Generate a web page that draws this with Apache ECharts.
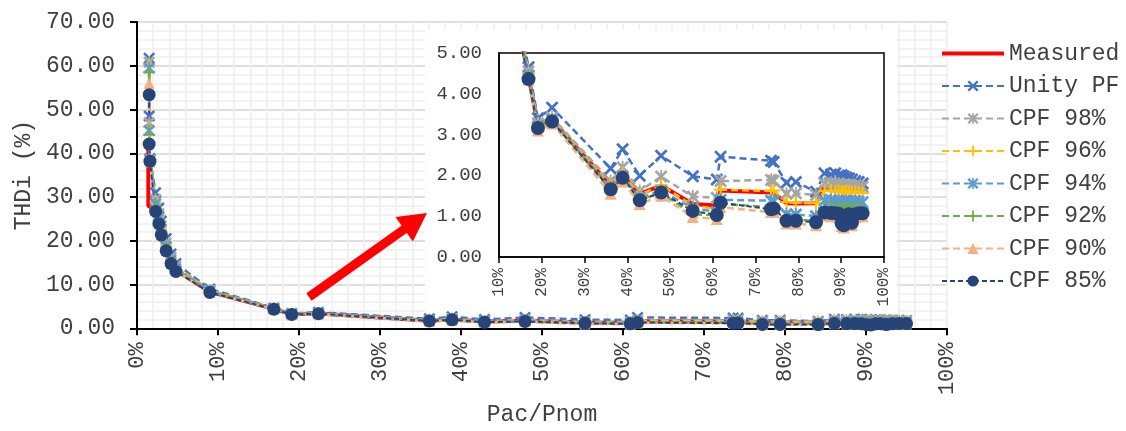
<!DOCTYPE html>
<html>
<head>
<meta charset="utf-8">
<script src="https://cdn.jsdelivr.net/npm/echarts@6.0.0/dist/echarts.min.js"></script>
<style>
  html, body { margin: 0; padding: 0; background: #fff; }
  #chart { width: 1126px; height: 431px; }
</style>
</head>
<body>
<div id="chart"></div>
<script>
// ---------- data (Pac/Pnom in %, THDi in %) ----------
const seriesNames = ['Measured', 'Unity PF', 'CPF 98%', 'CPF 96%', 'CPF 94%', 'CPF 92%', 'CPF 90%', 'CPF 85%'];

const measuredPac = [1.4, 1.4, 2.3, 2.7, 3.0, 3.6, 4.2, 4.8, 9.0, 16.9, 19.1, 22.4, 36.1, 38.9, 42.9, 47.9, 55.3, 60.9, 61.8, 73.6, 74.2, 77.2, 79.4, 84.1, 86.1, 87.6, 88.6, 89.4, 90.1, 90.6, 91.2, 91.8, 92.5, 93.3, 94.1, 95.0];
const measured    = [41.0, 28.0, 27.0, 24.2, 21.6, 18.0, 15.1, 13.3, 8.35, 4.45, 3.20, 3.36, 1.75, 2.00, 1.55, 1.75, 1.30, 1.26, 1.63, 1.58, 1.57, 1.32, 1.31, 1.32, 1.72, 1.65, 1.62, 1.63, 1.62, 1.60, 1.63, 1.62, 1.60, 1.62, 1.60, 1.60];

const pac      = [1.5, 1.5, 1.6, 2.3, 2.7, 3.0, 3.6, 4.2, 4.8, 9.0, 16.9, 19.1, 22.4, 36.1, 38.9, 42.9, 47.9, 55.3, 60.9, 61.8, 73.6, 74.2, 77.2, 79.4, 84.1, 86.1, 87.6, 88.6, 89.4, 90.1, 90.6, 91.2, 91.8, 92.5, 93.3, 94.1, 95.0];
const unityPF  = [61.7, 48.5, 38.8, 31.0, 27.5, 24.5, 20.5, 17.0, 14.8, 9.0, 4.65, 3.40, 3.66, 2.17, 2.64, 1.99, 2.48, 1.98, 1.90, 2.46, 2.36, 2.33, 1.82, 1.84, 1.60, 2.05, 2.02, 2.05, 2.00, 2.01, 1.97, 1.95, 1.93, 1.90, 1.86, 1.84, 1.80];
const cpf98    = [60.8, 47.0, 38.6, 29.5, 26.2, 23.4, 19.5, 16.2, 14.2, 8.7, 4.55, 3.28, 3.42, 1.86, 2.20, 1.62, 1.97, 1.48, 1.45, 1.86, 1.89, 1.87, 1.55, 1.56, 1.52, 1.80, 1.82, 1.78, 1.80, 1.76, 1.78, 1.75, 1.77, 1.74, 1.76, 1.73, 1.72];
const cpf96    = [60.3, 46.0, 38.5, 29.0, 25.8, 23.0, 19.1, 15.9, 13.9, 8.6, 4.50, 3.24, 3.38, 1.76, 2.04, 1.52, 1.76, 1.26, 1.18, 1.65, 1.62, 1.63, 1.35, 1.33, 1.32, 1.62, 1.63, 1.60, 1.62, 1.60, 1.58, 1.62, 1.60, 1.58, 1.60, 1.58, 1.57];
const cpf94    = [59.5, 45.2, 38.4, 28.5, 25.3, 22.6, 18.7, 15.6, 13.6, 8.5, 4.45, 3.20, 3.36, 1.70, 1.97, 1.45, 1.62, 1.20, 1.10, 1.40, 1.38, 1.36, 1.05, 1.04, 1.00, 1.38, 1.40, 1.36, 1.38, 1.35, 1.33, 1.38, 1.36, 1.34, 1.37, 1.35, 1.34];
const cpf92    = [58.5, 44.2, 38.3, 27.8, 24.8, 22.1, 18.3, 15.3, 13.4, 8.4, 4.40, 3.18, 3.33, 1.65, 1.93, 1.40, 1.57, 1.05, 1.02, 1.30, 1.22, 1.20, 0.92, 0.92, 0.88, 1.20, 1.22, 1.18, 1.20, 1.18, 1.15, 1.20, 1.18, 1.16, 1.20, 1.18, 1.17];
const cpf90    = [56.0, 43.0, 38.0, 27.0, 24.0, 21.5, 17.8, 14.9, 13.1, 8.2, 4.35, 3.10, 3.27, 1.55, 1.85, 1.30, 1.50, 0.98, 0.93, 1.22, 1.10, 1.10, 0.82, 0.82, 0.78, 1.02, 1.00, 1.00, 0.98, 0.76, 0.72, 0.95, 0.98, 0.78, 0.98, 1.00, 1.00];
const cpf85    = [53.4, 42.1, 38.2, 26.7, 23.9, 21.3, 17.7, 14.8, 13.0, 8.2, 4.36, 3.16, 3.32, 1.66, 1.94, 1.39, 1.58, 1.13, 1.03, 1.33, 1.17, 1.19, 0.89, 0.89, 0.85, 1.09, 1.08, 1.07, 1.06, 0.82, 0.78, 1.02, 1.05, 0.84, 1.05, 1.07, 1.07];

const mainXTicks  = [0, 10, 20, 30, 40, 50, 60, 70, 80, 90, 100];
const insetXTicks = [10, 20, 30, 40, 50, 60, 70, 80, 90, 100];
const mainYMax = 70, insetYMax = 5;

// ---------- styling ----------
const FONT = 'Liberation Mono';
const TXT = '#404040';
const SYM_X    = 'path://M0,1.5 L1.5,0 L5,3.5 L8.5,0 L10,1.5 L6.5,5 L10,8.5 L8.5,10 L5,6.5 L1.5,10 L0,8.5 L3.5,5 Z';
const SYM_STAR = 'path://M0,1.5 L1.5,0 L5,3.5 L8.5,0 L10,1.5 L6.5,5 L10,8.5 L8.5,10 L5,6.5 L1.5,10 L0,8.5 L3.5,5 Z M4.3,0 L5.7,0 L5.7,10 L4.3,10 Z';
const SYM_PLUS = 'path://M4.2,0 L5.8,0 L5.8,4.2 L10,4.2 L10,5.8 L5.8,5.8 L5.8,10 L4.2,10 L4.2,5.8 L0,5.8 L0,4.2 L4.2,4.2 Z';
const ICON_SOLID_LINE = 'path://M0,0 L62,0 L62,0.01 Z M0,5 L62,5 L62,9 L0,9 Z M0,14 L62,14 L62,14.01 Z';

const styles = [
  { color: '#FF0000', symbol: 'none', size: 0, width: 4, type: 'solid' },
  { color: '#4472C4', symbol: SYM_X, size: 12, width: 2.5, type: [7, 4] },
  { color: '#A5A5A5', symbol: SYM_STAR, size: 12, width: 2.5, type: [7, 4] },
  { color: '#FFC000', symbol: SYM_PLUS, size: 12, width: 2.5, type: [7, 4] },
  { color: '#5B9BD5', symbol: SYM_STAR, size: 12, width: 2.5, type: [7, 4] },
  { color: '#70AD47', symbol: SYM_PLUS, size: 12, width: 2.5, type: [7, 4] },
  { color: '#F4B183', symbol: 'triangle', size: 11, width: 2.5, type: [7, 4] },
  { color: '#264478', symbol: 'circle', size: 13, width: 2, type: [5, 3] }
];

const allX = [measuredPac, pac, pac, pac, pac, pac, pac, pac];
const allY = [measured, unityPF, cpf98, cpf96, cpf94, cpf92, cpf90, cpf85];

function buildSeries(gi) {
  return seriesNames.map((name, i) => {
    const s = styles[i];
    return {
      name: name,
      type: 'line',
      xAxisIndex: gi,
      yAxisIndex: gi,
      z: gi === 0 ? 2 : 5,
      data: allX[i].map((x, k) => [x, allY[i][k]]),
      symbol: s.symbol,
      symbolSize: gi === 0 ? s.size : s.size + 1,
      showSymbol: s.symbol !== 'none',
      clip: true,
      animation: false,
      lineStyle: { color: s.color, width: s.width, type: s.type },
      itemStyle: { color: s.color },
      emphasis: { disabled: true }
    };
  });
}

// arrow geometry (decoration)
const arrowStart = [309, 297], arrowTip = [427, 213];
const ax = arrowTip[0] - arrowStart[0], ay = arrowTip[1] - arrowStart[1];
const al = Math.hypot(ax, ay), ux = ax / al, uy = ay / al;
const headLen = 28, headHalf = 15;
const bx = arrowTip[0] - ux * headLen, by = arrowTip[1] - uy * headLen;
const px = -uy, py = ux;

const legendData = seriesNames.map((n, i) => i === 0 ? { name: n, icon: ICON_SOLID_LINE, itemStyle: { color: '#FF0000' } } : n);

const chart = echarts.init(document.getElementById('chart'), null, { renderer: 'canvas' });
chart.setOption({
  animation: false,
  backgroundColor: '#fff',
  textStyle: { fontFamily: FONT, color: TXT },
  grid: [
    { left: 137, right: 179, top: 22, bottom: 99, show: false },
    { left: 499, right: 242, top: 53, bottom: 174, show: true, backgroundColor: '#fff', borderColor: '#000', borderWidth: 1.5, z: 3 }
  ],
  xAxis: [
    {
      type: 'value', gridIndex: 0, min: 0, max: 100, interval: 10,
      name: 'Pac/Pnom', nameLocation: 'middle', nameGap: 72,
      nameTextStyle: { fontFamily: FONT, fontSize: 23, color: TXT },
      axisLine: { show: true, onZero: false, lineStyle: { color: '#000', width: 2 } },
      axisTick: { show: true, length: 7, lineStyle: { color: '#000', width: 2 } },
      axisLabel: { rotate: 90, margin: 14, fontFamily: FONT, fontSize: 22, color: TXT, formatter: v => v + '%' },
      splitLine: { show: true, lineStyle: { color: '#eeeeee', width: 1.5 } },
      minorTick: { show: false, splitNumber: 5 },
      minorSplitLine: { show: true, lineStyle: { color: '#eeeeee', width: 1.5 } }
    },
    {
      type: 'value', gridIndex: 1, min: 10, max: 100, interval: 10, z: 4,
      axisLine: { show: true, onZero: false, lineStyle: { color: '#000', width: 1.5 } },
      axisTick: { show: true, length: 6, lineStyle: { color: '#000', width: 1.5 } },
      axisLabel: { rotate: 90, margin: 11, fontFamily: FONT, fontSize: 16, color: TXT, formatter: v => v + '%' },
      splitLine: { show: false }
    }
  ],
  yAxis: [
    {
      type: 'value', gridIndex: 0, min: 0, max: mainYMax, interval: 10,
      name: 'THDi (%)', nameLocation: 'middle', nameGap: 100,
      nameTextStyle: { fontFamily: FONT, fontSize: 23, color: TXT },
      axisLine: { show: true, onZero: false, lineStyle: { color: '#000', width: 2 } },
      axisTick: { show: true, length: 7, lineStyle: { color: '#000', width: 2 } },
      axisLabel: { margin: 22, fontFamily: FONT, fontSize: 23, color: TXT, formatter: v => v.toFixed(2) },
      splitLine: { show: true, lineStyle: { color: '#d4d4d4', width: 1.5 } },
      minorTick: { show: false, splitNumber: 5 },
      minorSplitLine: { show: true, lineStyle: { color: '#eeeeee', width: 1.5 } }
    },
    {
      type: 'value', gridIndex: 1, min: 0, max: insetYMax, interval: 1, z: 4,
      axisLine: { show: true, onZero: false, lineStyle: { color: '#000', width: 1.5 } },
      axisTick: { show: false },
      axisLabel: { margin: 17, fontFamily: FONT, fontSize: 19, color: TXT, formatter: v => v.toFixed(2) },
      splitLine: { show: false }
    }
  ],
  legend: {
    orient: 'vertical', left: 936, top: 37,
    itemWidth: 62, itemHeight: 14, itemGap: 9.5,
    textStyle: { fontFamily: FONT, fontSize: 23, color: TXT, lineHeight: 23 },
    data: legendData
  },
  graphic: [
    { type: 'rect', z: 1, silent: true, shape: { x: 425, y: 30, width: 472, height: 283 }, style: { fill: '#fff' } },
    { type: 'line', z: 2, silent: true,
      shape: { x1: arrowStart[0], y1: arrowStart[1], x2: bx + ux * 2, y2: by + uy * 2 },
      style: { stroke: '#FF0000', lineWidth: 9, lineCap: 'butt' } },
    { type: 'polygon', z: 2, silent: true,
      shape: { points: [arrowTip, [bx + px * headHalf, by + py * headHalf], [bx - px * headHalf, by - py * headHalf]] },
      style: { fill: '#FF0000' } }
  ],
  series: buildSeries(0).concat(buildSeries(1))
});
</script>
</body>
</html>
